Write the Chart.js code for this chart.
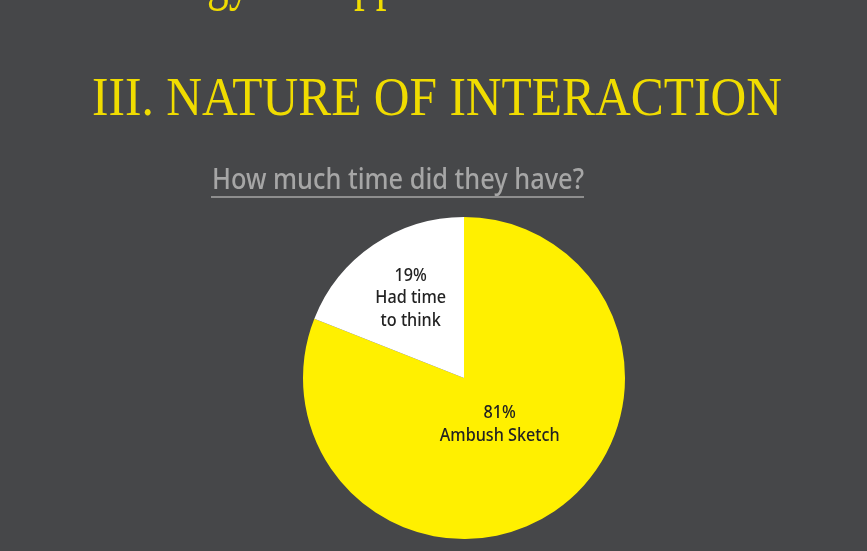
<!DOCTYPE html>
<html>
<head>
<meta charset="utf-8">
<title>Nature of interaction</title>
<script src="https://cdn.jsdelivr.net/npm/chart.js@4.4.1/dist/chart.umd.min.js"></script>
<style>
    html, body { margin: 0; padding: 0; background: #464749; }
    #wrap { width: 867px; height: 551px; position: relative; }
</style>
</head>
<body>
<div id="wrap"><canvas id="pieChart" width="867" height="551"></canvas></div>
<script>
// Pie data
const categories = ['Ambush Sketch', 'Had time to think'];
const labelLines = [['81%', 'Ambush Sketch'], ['19%', 'Had time', 'to think']];
const shares = [81, 19];
const sliceColors = ['#fff000', '#ffffff'];

const titleText = 'III. NATURE OF INTERACTION';
const subtitleText = 'How much time did they have?';
const cutText = 'Strategy and approach';

// draws a line of text squeezed to a given width
function fitText(ctx, text, x, y, width) {
    const w = ctx.measureText(text).width;
    ctx.save();
    ctx.translate(x, y);
    ctx.scale(width / w, 1);
    ctx.fillText(text, 0, 0);
    ctx.restore();
}

const headerPlugin = {
    id: 'header',
    beforeDraw(chart) {
        const ctx = chart.ctx;
        ctx.save();
        ctx.textBaseline = 'alphabetic';
        ctx.textAlign = 'left';

        // previous heading, only descenders visible
        ctx.fillStyle = '#f0dc00';
        ctx.font = '60px "Liberation Serif"';
        const a = ctx.measureText('Strate').width;
        const b = ctx.measureText('Strategy and a').width;
        const s = (354 - 207) / (b - a);
        ctx.save();
        ctx.translate(207 - a * s, -2);
        ctx.scale(s, 1);
        ctx.fillText(cutText, 0, 0);
        ctx.restore();

        // title
        ctx.font = '54px "Liberation Serif"';
        fitText(ctx, titleText, 92, 115, 690);

        // subtitle
        ctx.fillStyle = '#a6a6a6';
        ctx.font = '500 29px "Noto Sans"';
        fitText(ctx, subtitleText, 212, 189, 372);
        ctx.fillStyle = '#8e8e8e';
        ctx.fillRect(211, 196, 373, 2);
        ctx.restore();
    }
};

const sliceLabels = {
    id: 'sliceLabels',
    afterDatasetsDraw(chart, args, opts) {
        const ctx = chart.ctx;
        const arcs = chart.getDatasetMeta(0).data;
        ctx.save();
        ctx.fillStyle = '#222222';
        ctx.font = '500 18px "Noto Sans"';
        ctx.textAlign = 'center';
        ctx.textBaseline = 'middle';
        arcs.forEach((arc, i) => {
            const mid = (arc.startAngle + arc.endAngle) / 2;
            const r = arc.outerRadius * opts.dist[i];
            const cx = arc.x + Math.cos(mid) * r + opts.nudge[i];
            const cy = arc.y + Math.sin(mid) * r;
            const lines = labelLines[i];
            const lh = 22.5;
            lines.forEach((t, j) => {
                ctx.save();
                ctx.translate(cx, cy + (j - (lines.length - 1) / 2) * lh);
                ctx.scale(0.9, 1);
                ctx.fillText(t, 0, 0);
                ctx.restore();
            });
        });
        ctx.restore();
    }
};

new Chart(document.getElementById('pieChart'), {
    type: 'pie',
    data: {
        labels: categories,
        datasets: [{
            data: shares,
            backgroundColor: sliceColors,
            borderWidth: 0
        }]
    },
    options: {
        responsive: false,
        animation: false,
        layout: { padding: { top: 217, bottom: 12, left: 303, right: 242 } },
        plugins: {
            legend: { display: false },
            tooltip: { enabled: false },
            sliceLabels: { dist: [0.35, 0.6], nudge: [4, 1] }
        }
    },
    plugins: [headerPlugin, sliceLabels]
});
</script>
</body>
</html>
